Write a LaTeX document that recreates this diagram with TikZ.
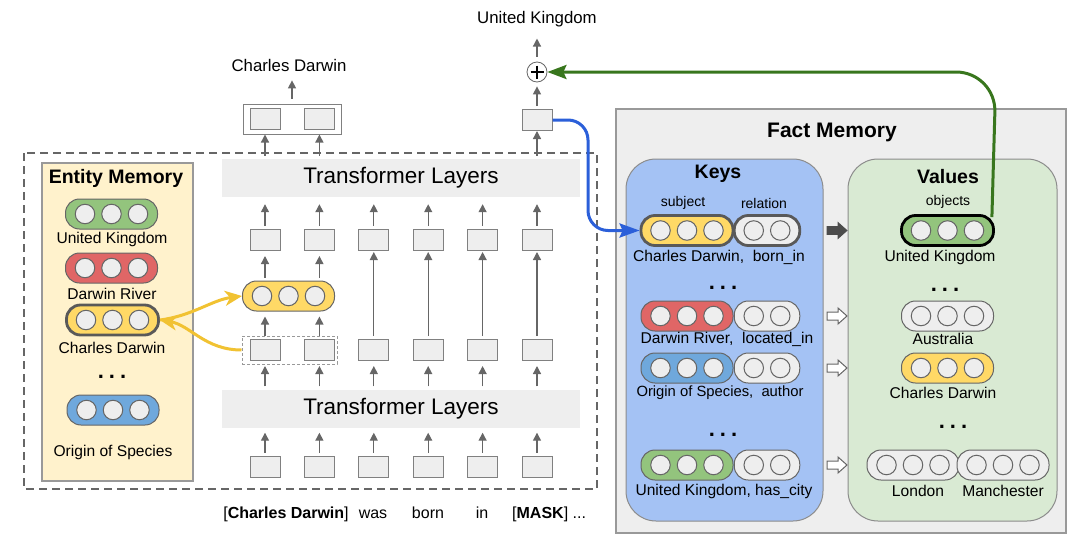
\documentclass[tikz,border=0pt]{standalone}
\usepackage{fontspec}
\setmainfont{Liberation Sans}
\usetikzlibrary{arrows.meta,calc}

\definecolor{cellgray}{HTML}{EEEEEE}
\definecolor{edgegray}{HTML}{999999}
\definecolor{arrowgray}{HTML}{666666}
\definecolor{pillgreen}{HTML}{93C47D}
\definecolor{pillred}{HTML}{E06666}
\definecolor{pillyellow}{HTML}{FFD966}
\definecolor{pillblue}{HTML}{6FA8DC}
\definecolor{entityfill}{HTML}{FFF2CC}
\definecolor{keysfill}{HTML}{A4C2F4}
\definecolor{valuesfill}{HTML}{D9EAD3}
\definecolor{linkblue}{HTML}{2B5FD9}
\definecolor{linkgreen}{HTML}{38761D}
\definecolor{linkyellow}{HTML}{F1C232}

\newcommand{\fsz}[1]{\fontsize{#1}{#1}\selectfont}

\tikzset{
  vecbox/.style={draw=black!50, fill=cellgray, line width=1pt, minimum width=30pt, minimum height=21pt, inner sep=0pt},
  layerbox/.style={fill=cellgray, minimum width=358pt, minimum height=38pt, inner sep=0pt, font=\fsz{22.5}},
  pill/.style={draw=arrowgray, line width=1pt, minimum height=30pt, rounded corners=14pt, inner sep=0pt},
  cell/.style={circle, draw=arrowgray, fill=cellgray, line width=1pt, minimum size=19.5pt, inner sep=0pt},
  hilite/.style={draw=black!65, line width=2.8pt},
  lbl/.style={font=\fsz{15.6}, inner sep=0pt},
  tag/.style={font=\fsz{14}, inner sep=0pt},
  tok/.style={font=\fsz{16}, inner sep=0pt, anchor=base},
  title/.style={font=\fsz{19.5}\bfseries, inner sep=0pt},
  flow/.style={draw=arrowgray, line width=1.3pt, -{Triangle[length=8pt,width=8pt]}, shorten <=3pt, shorten >=5pt},
  yellowlink/.style={draw=linkyellow, line width=3pt, -{Stealth[length=17pt,width=15pt,inset=5pt]}},
  bluelink/.style={draw=linkblue, line width=3pt, rounded corners=20pt, -{Stealth[length=20pt,width=14pt,inset=3pt]}},
  greenlink/.style={draw=linkgreen, line width=3pt, rounded corners=40pt, -{Stealth[length=19pt,width=14pt,inset=3pt]}},
  outerdash/.style={draw=arrowgray, line width=1.8pt, dash pattern=on 8pt off 5pt},
}

% [extra style]{name}{position}{fill}{number of cells}
\newcommand{\vecpill}[5][]{%
  \node[pill, fill=#4, minimum width={(#5-1)*26.5+39}, #1] (#2) at #3 {};
  \foreach \k in {1,...,#5}
    \node[cell] (#2-\k) at ($(#2.center)+({(\k-(#5+1)/2)*26.5},0)$) {};
}
\newcommand{\dotsrow}[2]{\node[inner sep=0pt, font=\fsz{22}\bfseries] (#1) at #2 {.\hspace{5pt}.\hspace{5pt}.};}
\newcommand{\blockarrow}[2]{\draw[#2] #1 ++(0,-4) -- ++(11,0) -- ++(0,-4) -- ++(9,8) -- ++(-9,8) -- ++(0,-4) -- ++(-11,0) -- cycle;}

\begin{document}
\begin{tikzpicture}[x=1pt,y=-1pt]
\useasboundingbox (0,0) rectangle (1080,549);

% frames
\draw[outerdash] (24,153) rectangle (597,489);
\draw[draw=edgegray, fill=entityfill, line width=1.2pt] (42,163) rectangle (193,481);
\draw[draw=edgegray, fill=cellgray, line width=1.5pt] (616,109) rectangle (1066,533);
\draw[draw=black!45, fill=keysfill, line width=1pt, rounded corners=30pt] (626,159) rectangle (823,521);
\draw[draw=black!45, fill=valuesfill, line width=1pt, rounded corners=30pt] (848,159) rectangle (1057,521);

\node[title] (emtitle) at (116,178) {Entity Memory};
\node[title, font=\fsz{21}\bfseries] (fmtitle) at (832,132) {Fact Memory};
\node[title] (keytitle) at (718,174) {Keys};
\node[title] (valtitle) at (948,177) {Values};

% entity memory
\vecpill{em1}{(111.5,214)}{pillgreen}{3}
\vecpill{em2}{(111.5,268)}{pillred}{3}
\vecpill[hilite]{em3}{(112.5,320)}{pillyellow}{3}
\vecpill{em4}{(113,410)}{pillblue}{3}
\node[lbl] (em1l) at (112,239) {United Kingdom};
\node[lbl] (em2l) at (112,294) {Darwin River};
\node[lbl] (em3l) at (112,348) {Charles Darwin};
\dotsrow{emdots}{(112,377)}
\node[lbl] (em4l) at (113,452) {Origin of Species};

% transformer
\node[layerbox] (thigh) at (401,178) {Transformer Layers};
\node[layerbox] (tlow) at (401,408.5) {Transformer Layers};
\vecpill{mpill}{(288.5,296)}{pillyellow}{3}
\node[draw=edgegray, line width=1pt, dash pattern=on 3pt off 2pt, minimum width=95pt, minimum height=28pt, inner sep=0pt] (dbox) at (289.5,350) {};

\foreach \i/\x in {1/265,2/319.4,3/373.8,4/428.2,5/482.6,6/537}{
  \node[vecbox] (in\i) at (\x,466.5) {};
  \node[vecbox] (mid\i) at (\x,350) {};
  \node[vecbox] (up\i) at (\x,240) {};
  \draw[flow] (in\i.north) -- (in\i.north |- tlow.south);
  \draw[flow] (mid\i.south |- tlow.north) -- (mid\i.south);
  \draw[flow, shorten >=7pt] (up\i.north) -- (up\i.north |- thigh.south);
}
\foreach \i in {1,2}{
  \draw[flow] (mid\i.north) -- (mid\i.north |- mpill.south);
  \draw[flow] (mid\i.north |- mpill.north) -- (up\i.south);
}
\foreach \i in {3,...,6}
  \draw[flow, shorten >=1pt] (mid\i.north) -- (up\i.south);

% outputs
\node[draw=black!50, fill=white, line width=1pt, minimum width=98pt, minimum height=30pt, inner sep=0pt] (outbox) at (292,119) {};
\node[vecbox] (out1) at (265,119) {};
\node[vecbox] (out2) at (319.4,119) {};
\node[vecbox] (maskout) at (537,120) {};
\node[circle, draw=arrowgray, line width=0.8pt, fill=white, minimum size=20pt, inner sep=0pt] (oplus) at (537,72) {};
\draw[line width=2pt] ($(oplus.center)+(-6.5,0)$) -- ($(oplus.center)+(6.5,0)$)
                      ($(oplus.center)+(0,-6.5)$) -- ($(oplus.center)+(0,6.5)$);
\node[lbl, font=\fsz{16.8}] (cdout) at (289,65) {Charles Darwin};
\node[lbl, font=\fsz{16.8}] (ukout) at (537,19.5) {United Kingdom};

\draw[flow, shorten >=0pt] (up1.north |- thigh.north) -- (up1.north |- outbox.south);
\draw[flow, shorten >=0pt] (up2.north |- thigh.north) -- (up2.north |- outbox.south);
\draw[flow, shorten >=0pt] (up6.north |- thigh.north) -- (maskout.south);
\draw[flow, shorten <=5pt, shorten >=9pt] (outbox.north) -- (outbox.north |- cdout.south);
\draw[flow, shorten >=4pt] (maskout.north) -- (oplus.south);
\draw[flow, shorten <=5pt, shorten >=11pt] (oplus.north) -- (ukout.south);

% tokens
\node[tok] (tok1) at (286,518) {[\textbf{Charles Darwin}]};
\node[tok] (tok2) at (373,518) {was};
\node[tok] (tok3) at (428,518) {born};
\node[tok] (tok4) at (482,518) {in};
\node[tok, anchor=base west] (tok5) at (512,518) {[\textbf{MASK}] ...};

% keys
\node[tag] (subj) at (683,203) {subject};
\node[tag] (rel) at (764,203) {relation};
\vecpill[hilite]{k1s}{(687,230.5)}{pillyellow}{3}
\vecpill[hilite]{k1r}{(767,230.5)}{cellgray}{2}
\vecpill{k2s}{(687,316)}{pillred}{3}
\vecpill{k2r}{(767,316)}{cellgray}{2}
\vecpill{k3s}{(687,368)}{pillblue}{3}
\vecpill{k3r}{(767,368)}{cellgray}{2}
\vecpill{k4s}{(687,465)}{pillgreen}{3}
\vecpill{k4r}{(767,465)}{cellgray}{2}
\node[lbl] (k1l) at (719,257) {Charles Darwin,\ \ born\_in};
\dotsrow{kdots1}{(723,288)}
\node[lbl] (k2l) at (727,339) {Darwin River,\ \ located\_in};
\node[lbl, font=\fsz{14.8}] (k3l) at (720,393) {Origin of Species,\ \ author};
\dotsrow{kdots2}{(723,435)}
\node[lbl] (k4l) at (724,491) {United Kingdom, has\_city};

% values
\node[tag] (obj) at (948,202) {objects};
\vecpill[draw=black, line width=2.8pt]{v1}{(947.5,230.5)}{pillgreen}{3}
\vecpill{v2}{(947.5,316)}{cellgray}{3}
\vecpill{v3}{(947.5,368)}{pillyellow}{3}
\vecpill{v4a}{(913,465)}{cellgray}{3}
\vecpill{v4b}{(1003,465)}{cellgray}{3}
\node[lbl] (v1l) at (940,257) {United Kingdom};
\dotsrow{vdots1}{(945,290)}
\node[lbl] (v2l) at (943,339) {Australia};
\node[lbl] (v3l) at (943,393) {Charles Darwin};
\dotsrow{vdots2}{(953,427)}
\node[lbl] (v4al) at (918,491) {London};
\node[lbl] (v4bl) at (1003,491) {Manchester};

% keys -> values
\blockarrow{(827,230.5)}{fill=black!70, draw=black!70, line width=0.8pt}
\blockarrow{(827,316)}{fill=white, draw=arrowgray, line width=1pt}
\blockarrow{(827,368)}{fill=white, draw=arrowgray, line width=1pt}
\blockarrow{(827,465)}{fill=white, draw=arrowgray, line width=1pt}

% links
\draw[yellowlink] (dbox.west) .. controls (205,350) and (190,325) .. (em3.east);
\draw[yellowlink] (em3.east) .. controls (192,316) and (212,300) .. (mpill.west);
\coordinate (bcol) at (588,0);
\draw[bluelink] (maskout.east) -- (maskout.east -| bcol) -- (k1s.west -| bcol) -- (k1s.west);
\coordinate (gbend) at (996,72);
\draw[greenlink] ($(v1.north east)+(-3,3)$) -- (gbend) -- (oplus.east);
\end{tikzpicture}
\end{document}
